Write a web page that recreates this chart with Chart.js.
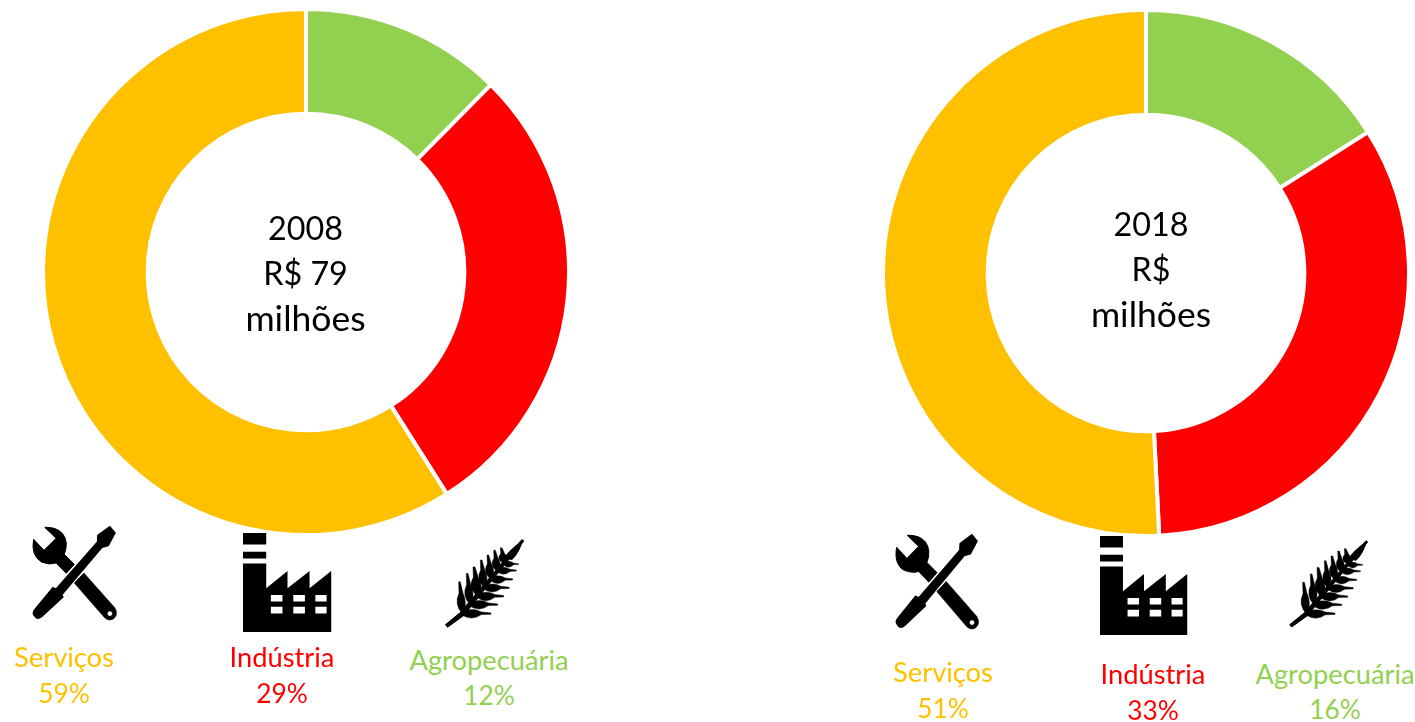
<!DOCTYPE html>
<html lang="pt"><head><meta charset="utf-8">
<script src="https://cdn.jsdelivr.net/npm/chart.js@4"></script>
<style>
html,body{margin:0;padding:0;background:#fff;width:1415px;height:722px;overflow:hidden}
body{position:relative;font-family:Lato,"Open Sans",sans-serif}
.c{position:absolute;width:530px;height:530px}
.c canvas{display:block}
.t{position:absolute;transform:translate(-50%,-50%);white-space:nowrap;line-height:1;font-size:27.3px}
.p{font-size:26.3px}
.m{font-size:32.3px;color:#000}
.w{font-size:35.5px;color:#000}
svg.i{position:absolute;overflow:visible}
</style></head><body>
<svg width="0" height="0" style="position:absolute">
<defs>
<symbol id="tools" viewBox="8 7 270 288" preserveAspectRatio="none" overflow="visible">
<path stroke="#000" stroke-width="4" stroke-linejoin="round" d="M250 9L266 28L245 66L226 71L103 213L106 220L42 278Q28 290 20 278Q10 268 20 257L75 192L85 196L212 55L213 35Z"/>
<path stroke="#000" stroke-width="3" stroke-linejoin="round" d="M50 11L85 44L48 80L16 47Q7 95 40 115Q65 125 85 118L116 149L141 122L110 92Q125 55 105 30Q85 9 50 11Z"/>
<path fill-rule="evenodd" stroke="#000" stroke-width="2" d="M170 148L265 252Q277 272 262 285Q245 295 232 280L141 178ZM250 262a8 8 0 1 0 .1 0Z"/>
</symbol>
<symbol id="factory" viewBox="635 68 230 299" preserveAspectRatio="none">
<path fill-rule="evenodd" d="M635 68H695V103H635ZM635 125H695V145H635ZM635 160H695V235L750 183V235L807 183V235L863 183V367H635ZM707 255V275H737V255ZM765 255V275H795V255ZM822 255V275H851V255ZM707 291V311H737V291ZM765 291V311H795V291ZM822 291V311H851V291Z"/>
</symbol>
<path id="gl" d="M0 2Q-24 -25 -9 -58L-10 -92L-5 -92L3 -58Q16 -30 5 0Z"/>
<path id="gr" d="M0 -2Q30 -16 58 -2L87 1L87 5L58 6Q30 26 0 7Z"/>
<symbol id="wheat" viewBox="14 12 240 266" preserveAspectRatio="none">
<path d="M16 268L60 232L245 14L250 18L70 240L22 275Z" stroke="#000" stroke-width="3"/>
<path d="M190 70Q205 45 248 14Q240 50 215 75Z"/>
<g stroke="#000" stroke-width="1.5">
<use href="#gl" transform="translate(65 232)"/><use href="#gl" transform="translate(88 205) scale(1 .98)"/><use href="#gl" transform="translate(110 180) scale(1.2 .92)"/><use href="#gl" transform="translate(130 155) scale(1 .87)"/><use href="#gl" transform="translate(150 130) scale(1 .76)"/><use href="#gl" transform="translate(170 108) scale(1 .68)"/><use href="#gl" transform="translate(190 85) scale(1 .51)"/>
<use href="#gr" transform="translate(65 232)"/><use href="#gr" transform="translate(88 205) scale(.97 1)"/><use href="#gr" transform="translate(110 180) scale(.92 1)"/><use href="#gr" transform="translate(130 155) scale(.88 .95)"/><use href="#gr" transform="translate(150 130) scale(.77 .9)"/><use href="#gr" transform="translate(170 104) scale(.67 .8)"/><use href="#gr" transform="translate(190 85) scale(.52 .7)"/>
</g>
</symbol>
</defs></svg>

<div class="c" style="left:41px;top:7px"><canvas id="c1" width="530" height="530"></canvas></div>
<div class="c" style="left:881px;top:8px"><canvas id="c2" width="530" height="530"></canvas></div>

<svg class="i" style="left:31px;top:526px" width="88" height="96"><use href="#tools" width="88" height="96"/></svg>
<svg class="i" style="left:243px;top:533px" width="89" height="99"><use href="#factory" width="89" height="99"/></svg>
<svg class="i" style="left:445px;top:539px" width="80" height="89"><use href="#wheat" width="80" height="89"/></svg>
<svg class="i" style="left:894px;top:534px" width="87" height="97"><use href="#tools" width="87" height="97"/></svg>
<svg class="i" style="left:1100px;top:536px" width="88" height="99"><use href="#factory" width="88" height="99"/></svg>
<svg class="i" style="left:1289px;top:540px" width="80" height="88"><use href="#wheat" width="80" height="88"/></svg>

<div id="txt"></div>
<script>
const categories = ['Agropecuária', 'Indústria', 'Serviços'];
const values2008 = [12.4, 28.6, 59];
const values2018 = [16, 33.2, 50.8];
const percents2008 = ['12%', '29%', '59%'];
const percents2018 = ['16%', '33%', '51%'];
const colors = ['#92D050', '#FF0000', '#FFC000'];
const center2008 = ['2008', 'R$ 79', 'milhões'];
const center2018 = ['2018', 'R$', 'milhões'];

function donut(id, values) {
  new Chart(document.getElementById(id), {
    type: 'doughnut',
    data: { labels: categories, datasets: [{ data: values, backgroundColor: colors, borderColor: '#fff', borderWidth: 4, borderAlign: 'center' }] },
    options: {
      responsive: false, animation: false, cutout: '60.2%', rotation: 0,
      layout: { padding: 0 },
      plugins: { legend: { display: false }, tooltip: { enabled: false } }
    }
  });
}
donut('c1', values2008);
donut('c2', values2018);

const box = document.getElementById('txt');
function text(s, x, y, color, cls) {
  const d = document.createElement('div');
  d.className = 't' + (cls ? ' ' + cls : '');
  d.textContent = s;
  d.style.left = x + 'px'; d.style.top = y + 'px';
  if (color) d.style.color = color;
  box.appendChild(d);
}
center2008.forEach((s, i) => text(s, 305.5, [228, 273, 318][i], null, i === 2 ? 'w' : 'm'));
center2018.forEach((s, i) => text(s, 1151, [224, 269, 314][i], null, i === 2 ? 'w' : 'm'));
const spots2008 = [[489, 660, 695], [282, 657, 693], [64, 657, 693]];
const spots2018 = [[1335, 674, 709], [1153, 674, 710], [943, 672, 708]];
categories.forEach((c, i) => {
  text(c, spots2008[i][0], spots2008[i][1], colors[i]);
  text(percents2008[i], spots2008[i][0], spots2008[i][2], colors[i], 'p');
  text(c, spots2018[i][0], spots2018[i][1], colors[i]);
  text(percents2018[i], spots2018[i][0], spots2018[i][2], colors[i], 'p');
});
</script>
</body></html>
